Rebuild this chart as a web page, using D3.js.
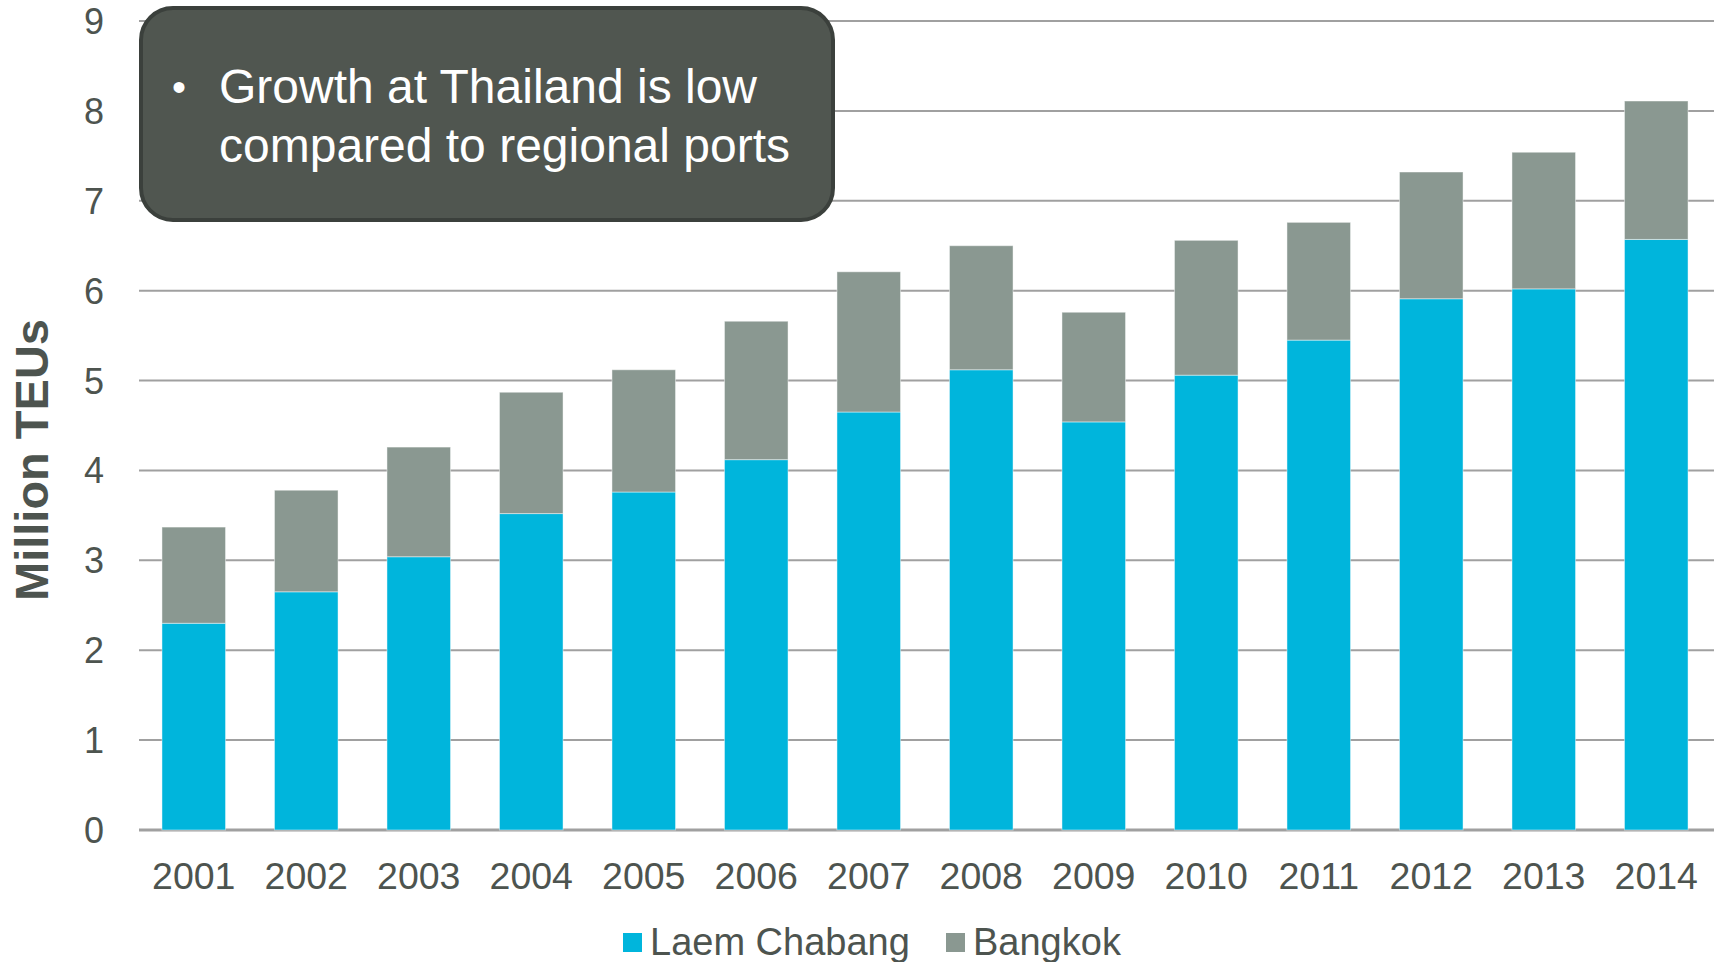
<!DOCTYPE html>
<html>
<head>
<meta charset="utf-8">
<script src="https://cdn.jsdelivr.net/npm/d3@7"></script>
<style>
  html, body { margin: 0; padding: 0; background: #ffffff; }
  svg { display: block; font-family: "Liberation Sans", Arial, sans-serif; }
</style>
</head>
<body>
<svg id="chart" width="1717" height="962"></svg>
<script>
// Container throughput at Thai ports, million TEUs
const years = ["2001","2002","2003","2004","2005","2006","2007","2008","2009","2010","2011","2012","2013","2014"];
const laemChabang = [2.30, 2.65, 3.04, 3.52, 3.76, 4.12, 4.65, 5.12, 4.54, 5.06, 5.45, 5.91, 6.02, 6.57];
const bangkok     = [1.07, 1.13, 1.22, 1.35, 1.36, 1.54, 1.56, 1.38, 1.22, 1.50, 1.31, 1.41, 1.52, 1.54];
const seriesNames = ["Laem Chabang", "Bangkok"];
const yTicks = [0, 1, 2, 3, 4, 5, 6, 7, 8, 9];
const noteLines = ["Growth at Thailand is low", "compared to regional ports"];

const colors = { "Laem Chabang": "#00B5DC", "Bangkok": "#8A9891" };
const textColor = "#4D544F";

const svg = d3.select("#chart");

const x = d3.scaleBand().domain(years).range([137.5, 1712.5]).paddingInner(0.435).paddingOuter(0.2175);
const y = d3.scaleLinear().domain([0, 9]).range([830, 21]);

// horizontal gridlines
svg.append("g")
  .selectAll("line")
  .data(yTicks)
  .join("line")
  .attr("x1", 139).attr("x2", 1714)
  .attr("y1", d => y(d)).attr("y2", d => y(d))
  .attr("stroke", "#A0A0A0")
  .attr("stroke-width", d => d === 0 ? 3 : 2);

// y tick labels
svg.append("g")
  .selectAll("text")
  .data(yTicks)
  .join("text")
  .attr("x", 104)
  .attr("y", d => y(d))
  .attr("dy", "0.36em")
  .attr("text-anchor", "end")
  .attr("font-size", 36)
  .attr("fill", textColor)
  .text(d => d);

// stacked bars
const rows = years.map((yr, i) => ({ year: yr, "Laem Chabang": laemChabang[i], "Bangkok": bangkok[i] }));
const stacked = d3.stack().keys(seriesNames)(rows);

svg.append("g")
  .selectAll("g")
  .data(stacked)
  .join("g")
  .attr("fill", s => colors[s.key])
  .selectAll("rect")
  .data(s => s)
  .join("rect")
  .attr("x", d => x(d.data.year))
  .attr("width", x.bandwidth())
  .attr("y", d => y(d[1]))
  .attr("height", d => y(d[0]) - y(d[1]))
  .attr("stroke", "#ffffff")
  .attr("stroke-opacity", 0.45)
  .attr("stroke-width", 1);

// x category labels
svg.append("g")
  .selectAll("text")
  .data(years)
  .join("text")
  .attr("x", d => x(d) + x.bandwidth() / 2)
  .attr("y", 889)
  .attr("text-anchor", "middle")
  .attr("font-size", 37.5)
  .attr("fill", textColor)
  .text(d => d);

// y axis title
svg.append("text")
  .attr("transform", "translate(48,460) rotate(-90)")
  .attr("text-anchor", "middle")
  .attr("font-size", 47)
  .attr("font-weight", "bold")
  .attr("fill", textColor)
  .text("Million TEUs");

// legend
const legend = svg.append("g");
const legendItems = [
  { name: "Laem Chabang", sx: 623 },
  { name: "Bangkok", sx: 946 }
];
legendItems.forEach(it => {
  legend.append("rect")
    .attr("x", it.sx).attr("y", 933)
    .attr("width", 19).attr("height", 19)
    .attr("fill", colors[it.name]);
  legend.append("text")
    .attr("x", it.sx + 27).attr("y", 955)
    .attr("font-size", 38)
    .attr("fill", textColor)
    .text(it.name);
});

// annotation callout
const note = svg.append("g");
note.append("rect")
  .attr("x", 141).attr("y", 8)
  .attr("width", 692).attr("height", 212)
  .attr("rx", 32).attr("ry", 32)
  .attr("fill", "#505650")
  .attr("stroke", "#3B403C")
  .attr("stroke-width", 4);
note.append("text")
  .attr("x", 179).attr("y", 101)
  .attr("text-anchor", "middle")
  .attr("font-size", 40)
  .attr("fill", "#ffffff")
  .text("•");
note.selectAll("text.line")
  .data(noteLines)
  .join("text")
  .attr("class", "line")
  .attr("x", 219)
  .attr("y", (d, i) => 103 + i * 59)
  .attr("font-size", 48)
  .attr("fill", "#ffffff")
  .text(d => d);
</script>
</body>
</html>
